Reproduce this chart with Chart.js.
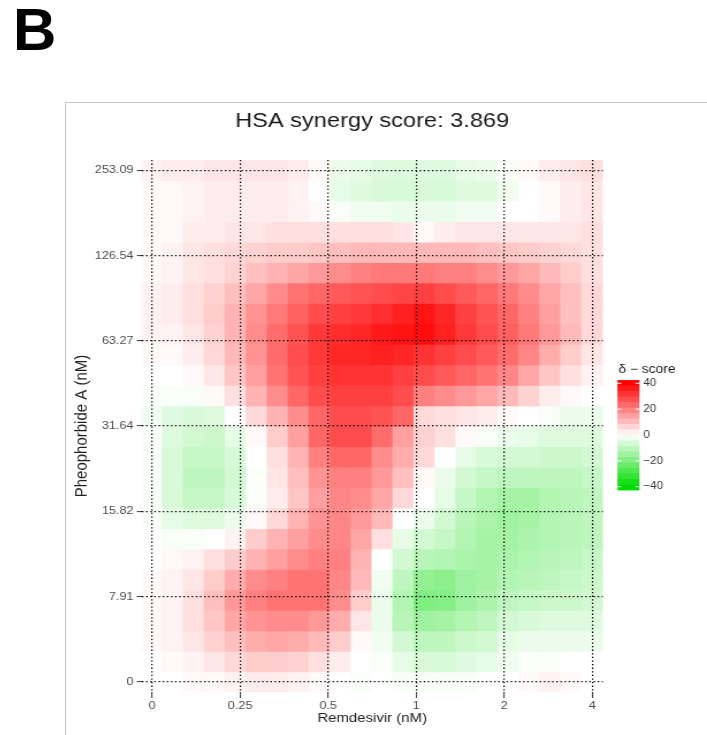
<!DOCTYPE html>
<html>
<head>
<meta charset="utf-8">
<script src="https://cdn.jsdelivr.net/npm/chart.js@4.4.1/dist/chart.umd.min.js"></script>
<style>
  html, body { margin: 0; padding: 0; background: #fff; }
  body { width: 707px; height: 735px; overflow: hidden; position: relative; font-family: "Liberation Sans", Arial, sans-serif; }
  #panel { position: absolute; left: 13px; top: 0px; font-size: 60px; font-weight: bold; line-height: 60px; color: #000; }
  #frame { position: absolute; left: 65px; top: 102px; width: 700px; height: 700px; border: 1px solid #c8c8c8; }
  #chart { position: absolute; left: 66px; top: 103px; width: 641px !important; height: 632px !important; }
</style>
</head>
<body>
<div id="panel">B</div>
<div id="frame"></div>
<canvas id="chart"></canvas>
<script>
// text
var chartTitle = 'HSA synergy score: 3.869';
var xTitle = 'Remdesivir (nM)';
var yTitle = 'Pheophorbide A (nM)';
var legendTitle = 'δ − score';

// tick labels (drug doses), evenly spaced on the axes
var xTickLabels = ['0', '0.25', '0.5', '1', '2', '4'];
var yTickLabels = ['0', '7.91', '15.82', '31.64', '63.27', '126.54', '253.09'];
var legendTicks = [40, 20, 0, -20, -40];

// delta scores, rows from the top (253.09) down to 0, columns from 0 to 4 nM remdesivir
var synergyGrid = [
  [2, 3, 3, 4, 4, 4, 4, 3, 1, -3, -4, -5, -5, -5, -5, -4, -3, -1, 1, 3, 4, 5],
  [1, 1, 2, 3, 3, 3, 3, 2, 0, -4, -5, -6, -6, -6, -6, -5, -5, -2, 0, 1, 3, 4],
  [1, 1, 2, 3, 3, 3, 3, 2, 1, -1, -2, -2, -3, -3, -3, -2, -2, 0, 0, 1, 3, 4],
  [1, 1, 3, 3, 4, 4, 5, 5, 5, 5, 5, 5, 4, 1, 3, 4, 4, 4, 4, 4, 4, 5],
  [1, 2, 4, 5, 6, 7, 8, 8, 9, 10, 11, 11, 11, 11, 11, 11, 10, 9, 8, 7, 6, 5],
  [1, 2, 4, 5, 7, 10, 12, 14, 16, 18, 20, 21, 21, 21, 20, 20, 18, 16, 14, 11, 8, 5],
  [2, 3, 5, 7, 10, 14, 18, 22, 24, 26, 27, 28, 29, 30, 28, 26, 24, 21, 18, 14, 10, 6],
  [2, 3, 5, 8, 12, 17, 21, 25, 28, 30, 31, 33, 35, 37, 34, 30, 27, 24, 20, 15, 10, 6],
  [2, 2, 4, 7, 12, 18, 23, 27, 31, 33, 34, 36, 37, 38, 35, 31, 28, 25, 21, 16, 11, 6],
  [1, 1, 3, 6, 11, 17, 23, 28, 31, 34, 34, 35, 34, 32, 30, 28, 26, 23, 19, 13, 8, 4],
  [0, 0, 1, 4, 9, 15, 22, 27, 30, 32, 32, 32, 30, 28, 26, 24, 22, 19, 14, 9, 5, 2],
  [-1, -1, -1, 1, 5, 12, 18, 24, 28, 30, 30, 30, 28, 20, 18, 16, 14, 11, 7, 3, 1, 0],
  [-2, -5, -6, -5, 0, 6, 12, 18, 24, 28, 28, 27, 24, 6, 5, 4, 3, 1, 0, -1, -3, -3],
  [-1, -5, -7, -8, -4, 1, 8, 15, 24, 28, 28, 23, 15, 7, 5, 1, -1, -3, -4, -5, -5, -5],
  [-1, -6, -9, -9, -6, 0, 5, 12, 20, 24, 24, 18, 13, 6, 0, -4, -6, -7, -7, -8, -8, -7],
  [-1, -6, -10, -10, -7, -1, 4, 10, 17, 20, 20, 16, 10, 1, -3, -7, -9, -10, -10, -10, -10, -9],
  [-1, -6, -9, -9, -6, -1, 3, 9, 15, 19, 18, 14, 6, 0, -4, -9, -12, -14, -14, -12, -11, -10],
  [-1, -4, -5, -5, -3, 1, 6, 12, 17, 19, 16, 11, 0, -3, -7, -11, -13, -15, -14, -12, -11, -10],
  [0, -1, -1, 0, 2, 8, 12, 15, 18, 19, 14, 5, -4, -7, -9, -12, -14, -14, -13, -12, -11, -10],
  [0, 1, 2, 5, 8, 12, 15, 18, 20, 20, 12, 0, -7, -11, -12, -13, -14, -13, -12, -11, -10, -9],
  [1, 2, 4, 8, 13, 18, 20, 22, 22, 19, 11, -2, -10, -17, -18, -15, -14, -12, -11, -10, -9, -8],
  [1, 2, 5, 10, 16, 20, 22, 22, 22, 18, 8, -3, -12, -20, -19, -15, -13, -10, -9, -8, -8, -7],
  [1, 2, 5, 9, 14, 17, 18, 18, 16, 13, 4, -3, -11, -15, -14, -12, -10, -7, -6, -5, -5, -5],
  [1, 2, 4, 7, 10, 13, 14, 13, 11, 8, 1, -2, -7, -10, -10, -8, -7, -4, -3, -3, -3, -3],
  [0, 1, 2, 4, 6, 8, 8, 7, 5, 3, 0, -1, -4, -6, -6, -5, -4, -2, -1, -1, 0, 0],
  [0, 0, 1, 1, 2, 3, 3, 2, 1, 0, -1, 0, -1, -1, -1, -1, 0, 0, 1, 2, 1, 0]
];

var FONT = "'Liberation Sans', Arial, sans-serif";

// the figure is drawn narrow and shown stretched sideways, like the source image
var S = 1.15;
var DISP_W = 641, DISP_H = 632;
var CW = Math.round(DISP_W / S), CH = DISP_H;
function toCx(X) { return (X - 66) / S; }
var areaLeft = toCx(141.5), areaRight = toCx(602.5);

function scoreColor(v) {
  var t = Math.min(Math.abs(v) / 40, 1);
  if (v >= 0) {
    var gb = Math.round(255 * (1 - t));
    return 'rgb(255,' + gb + ',' + gb + ')';
  }
  var rb = Math.round(255 * (1 - t));
  var g = Math.round(255 - 35 * t);
  return 'rgb(' + rb + ',' + g + ',' + rb + ')';
}

var nRows = synergyGrid.length;
var nCols = synergyGrid[0].length;
var xSpan = xTickLabels.length - 1;
var ySpan = yTickLabels.length - 1;
var halfX = xSpan / (nCols - 1) / 2;
var halfY = ySpan / (nRows - 1) / 2;

var datasets = synergyGrid.map(function(row, r) {
  var yc = (nRows - 1 - r) * ySpan / (nRows - 1);
  return {
    data: row.map(function(v, j) {
      return {x: j * xSpan / (nCols - 1), y: [yc - halfY, yc + halfY]};
    }),
    backgroundColor: row.map(scoreColor),
    grouped: false,
    barPercentage: 1,
    categoryPercentage: 1,
    borderWidth: 0,
    inflateAmount: 0.6
  };
});

// δ-score colour bar on the right
var deltaLegend = {
  id: 'deltaLegend',
  afterDraw: function(chart) {
    var ctx = chart.ctx;
    var x0 = toCx(617), x1 = toCx(639);
    var vy = function(v) { return 280.3 + (40 - v) * (103.4 / 80); };
    var top = 42.5, bins = 20, step = 2 * top / bins;
    ctx.save();
    for (var b = 0; b < bins; b++) {
      var hi = top - b * step;
      ctx.fillStyle = scoreColor(hi - step / 2);
      ctx.fillRect(x0, vy(hi), x1 - x0, vy(hi - step) - vy(hi) + 0.5);
    }
    ctx.strokeStyle = '#fff';
    ctx.lineWidth = 1;
    ctx.fillStyle = '#333';
    ctx.font = '10px ' + FONT;
    ctx.textBaseline = 'middle';
    ctx.textAlign = 'left';
    legendTicks.forEach(function(t) {
      var y = vy(t);
      ctx.beginPath();
      ctx.moveTo(x0, y); ctx.lineTo(x0 + 3.5, y);
      ctx.moveTo(x1 - 3.5, y); ctx.lineTo(x1, y);
      ctx.stroke();
      ctx.fillText(String(t).replace('-', '−'), toCx(643), y);
    });
    ctx.fillStyle = '#1a1a1a';
    ctx.font = '12px ' + FONT;
    ctx.fillText(legendTitle, toCx(618), 267);
    ctx.restore();
  }
};

var canvas = document.getElementById('chart');
canvas.width = CW;
canvas.height = CH;

new Chart(canvas.getContext('2d'), {
  type: 'bar',
  data: {datasets: datasets},
  plugins: [deltaLegend],
  options: {
    responsive: false,
    animation: false,
    events: [],
    layout: {padding: {left: 0, right: CW - areaRight, top: 0, bottom: 0}},
    plugins: {
      legend: {display: false},
      tooltip: {enabled: false},
      title: {
        display: true,
        text: chartTitle,
        fullSize: false,
        color: '#1a1a1a',
        font: {family: FONT, size: 20.5, weight: 'normal', lineHeight: 1.2},
        padding: {top: 6, bottom: 26.4}
      }
    },
    scales: {
      x: {
        type: 'linear',
        offset: false,
        min: -halfX,
        max: xSpan + halfX,
        afterBuildTicks: function(s) { s.ticks = xTickLabels.map(function(_, i) { return {value: i}; }); },
        afterFit: function(s) { s.height = CH - 589; },
        border: {display: false, dash: [1.3, 2.3]},
        grid: {z: 1, offset: false, color: '#000', lineWidth: 1.2, drawTicks: true, tickLength: 6, tickColor: '#333', tickWidth: 1, tickBorderDash: []},
        ticks: {
          maxRotation: 0, padding: 1, color: '#4d4d4d', font: {family: FONT, size: 11},
          callback: function(v) { return xTickLabels[v]; }
        },
        title: {display: true, text: xTitle, color: '#222', font: {family: FONT, size: 13, lineHeight: 1.2}, padding: {top: 0, bottom: 9}}
      },
      y: {
        type: 'linear',
        min: -halfY,
        max: ySpan + halfY,
        afterBuildTicks: function(s) { s.ticks = yTickLabels.map(function(_, i) { return {value: i}; }); },
        afterFit: function(s) { s.width = areaLeft; },
        border: {display: false, dash: [1.3, 2.3]},
        grid: {z: 1, color: '#000', lineWidth: 1.2, drawTicks: true, tickLength: 4, tickColor: '#333', tickWidth: 1, tickBorderDash: []},
        ticks: {
          padding: 3, color: '#4d4d4d', font: {family: FONT, size: 11},
          callback: function(v) { return yTickLabels[v]; }
        },
        title: {display: true, text: yTitle, color: '#222', font: {family: FONT, size: 15, lineHeight: 1.2}, padding: {top: 5, bottom: 0}}
      }
    }
  }
});
</script>
</body>
</html>
